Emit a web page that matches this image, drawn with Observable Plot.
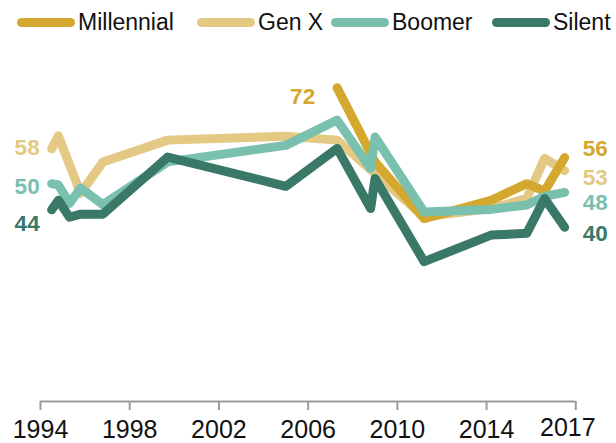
<!DOCTYPE html>
<html><head><meta charset="utf-8">
<script src="https://cdn.jsdelivr.net/npm/d3@7"></script>
<script src="https://cdn.jsdelivr.net/npm/@observablehq/plot@0.6"></script>
<style>
body{margin:0;background:#fff;font-family:"Liberation Sans",Arial,sans-serif;}
#legend{position:relative;width:616px;height:45px;}
.item{position:absolute;top:0;height:45px;display:flex;align-items:center;}
.sw{width:58px;height:9px;border-radius:5px;margin-right:3px;}
.lab{font-size:23px;color:#111;}
#chart svg{display:block;}
</style></head><body>
<div id="legend"></div><div id="chart"></div>
<script>
const seriesNames = ["Millennial", "Gen X", "Boomer", "Silent"];
const seriesColors = ["#D4A72E", "#E3C983", "#79C0AE", "#3A7867"];
const surveyDates = [1994.5, 1994.8, 1995.3, 1995.8, 1996.8, 1999.7, 2005.0, 2007.3, 2008.8, 2009.0, 2011.2, 2014.2, 2015.8, 2016.6, 2017.5];
const millennial = [null, null, null, null, null, null, null, 72, null, 55.0, 42.0, 46.2, 50.0, 48.3, 56];
const genX       = [58, 61.0, null, 47.8, 55.0, 60.0, 60.9, 60.0, null, null, 42.4, 44.3, 46.6, 55.8, 53];
const boomer     = [50, 49.7, 45.5, 49.0, 45.2, 55.0, 58.8, 64.6, 53.5, 60.7, 43.5, 44.1, 45.1, 47.1, 48];
const silent     = [44, 46.2, 42.3, 43.0, 43.0, 56.1, 49.4, 58.1, 44.3, 51.2, 32.1, 38.2, 38.6, 46.6, 40];
const xTicks = [1994, 1998, 2002, 2006, 2010, 2014, 2018];
const tickLabels = ["1994", "1998", "2002", "2006", "2010", "2014", "2017"];

const seriesValues = [millennial, genX, boomer, silent];

// legend
const legendLeft = [17, 197, 331, 492];
const legend = document.getElementById("legend");
seriesNames.forEach((name, i) => {
  const it = document.createElement("div");
  it.className = "item";
  it.style.left = legendLeft[i] + "px";
  it.innerHTML = `<div class="sw" style="background:${seriesColors[i]}"></div><span class="lab">${name}</span>`;
  legend.appendChild(it);
});

const rowsBySeries = seriesValues.map((vals, i) =>
  surveyDates.map((d, j) => ({series: seriesNames[i], date: d, value: vals[j]})).filter(r => r.value != null)
);

// label offsets (style only)
const startOffsets = [[-22, 9], [-12, -1], [-12, 3], [-12, 14]];
const endOffsets = [[18, -9], [18, 7], [18, 10], [18, 7]];

const drawOrder = [1, 0, 2, 3];
const marks = [
  Plot.ruleY([0], {stroke: "#9b9b9b", strokeWidth: 2}),
  Plot.axisX({ticks: xTicks, tickSize: 9, tickPadding: 10, fontSize: 25, stroke: "#9b9b9b", strokeWidth: 2, fill: "#111", label: null,
    tickFormat: d => { const i = xTicks.indexOf(d); return i === xTicks.length - 1 ? "" : tickLabels[i]; }}),
  Plot.text([tickLabels[tickLabels.length - 1]], {x: () => xTicks[xTicks.length - 1], frameAnchor: "bottom", lineAnchor: "middle", dy: 26, dx: -8, fontSize: 25, fill: "#111", text: d => d})
];
drawOrder.forEach(i => {
  marks.push(Plot.line(rowsBySeries[i], {x: "date", y: "value", stroke: seriesColors[i], strokeWidth: 9, strokeLinejoin: "round", strokeLinecap: "round"}));
});
seriesNames.forEach((name, i) => {
  const rows = rowsBySeries[i];
  const first = rows[0], last = rows[rows.length - 1];
  marks.push(Plot.text([first], {x: "date", y: "value", text: d => String(d.value), textAnchor: "end", dx: startOffsets[i][0], dy: startOffsets[i][1], fill: seriesColors[i], fontSize: 22.5, fontWeight: "bold"}));
  marks.push(Plot.text([last], {x: "date", y: "value", text: d => String(d.value), textAnchor: "start", dx: endOffsets[i][0], dy: endOffsets[i][1], fill: seriesColors[i], fontSize: 22.5, fontWeight: "bold"}));
});

const chart = Plot.plot({
  width: 616, height: 398,
  marginLeft: 40, marginRight: 40.7, marginTop: 7.5, marginBottom: 42,
  x: {domain: [1994, 2018], label: null},
  y: {domain: [0, 80], axis: null},
  style: {fontFamily: "'Liberation Sans', Arial, sans-serif", background: "white"},
  marks
});
document.getElementById("chart").appendChild(chart);
</script></body></html>
